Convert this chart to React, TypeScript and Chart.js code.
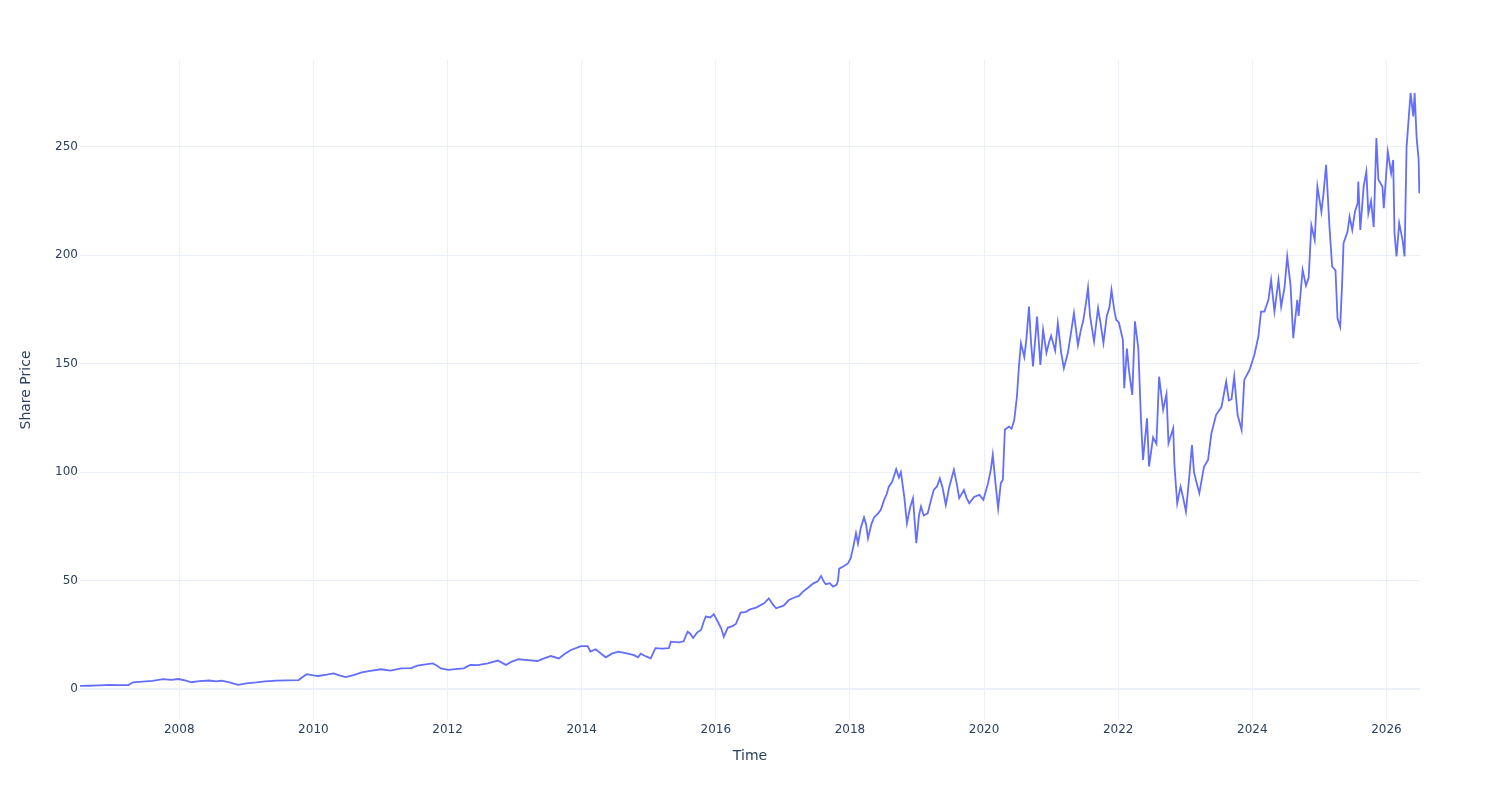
import React, { useEffect, useRef } from "react";
import { Chart, registerables } from "chart.js";

Chart.register(...registerables);

// Time in decimal years
const timeYears: number[] = [
  2006.52, 2006.65, 2006.8, 2006.95, 2007.1, 2007.24, 2007.31, 2007.45, 2007.6, 2007.76, 2007.88, 2007.99,
  2008.1, 2008.18, 2008.3, 2008.45, 2008.55, 2008.63, 2008.75, 2008.88, 2009.0, 2009.15, 2009.28, 2009.45,
  2009.6, 2009.78, 2009.84, 2009.9, 2010.0, 2010.07, 2010.2, 2010.3, 2010.4, 2010.48, 2010.6, 2010.72,
  2010.85, 2011.01, 2011.15, 2011.31, 2011.46, 2011.55, 2011.7, 2011.78, 2011.85, 2011.9, 2012.01, 2012.12,
  2012.24, 2012.34, 2012.45, 2012.6, 2012.75, 2012.87, 2012.95, 2013.06, 2013.2, 2013.34, 2013.45, 2013.54,
  2013.66, 2013.75, 2013.84, 2013.99, 2014.09, 2014.13, 2014.21, 2014.3, 2014.36, 2014.45, 2014.55, 2014.69,
  2014.78, 2014.84, 2014.88, 2014.96, 2015.03, 2015.1, 2015.2, 2015.3, 2015.33, 2015.45, 2015.52, 2015.58,
  2015.62, 2015.66, 2015.72, 2015.78, 2015.82, 2015.85, 2015.92, 2015.97, 2016.03, 2016.08, 2016.12, 2016.18,
  2016.25, 2016.3, 2016.37, 2016.45, 2016.51, 2016.6, 2016.72, 2016.79, 2016.85, 2016.9, 2017.01, 2017.09,
  2017.18, 2017.24, 2017.3, 2017.38, 2017.45, 2017.52, 2017.57, 2017.61, 2017.64, 2017.7, 2017.75, 2017.8,
  2017.82, 2017.84, 2017.9, 2017.97, 2018.01, 2018.05, 2018.09, 2018.12, 2018.16, 2018.21, 2018.24, 2018.27,
  2018.32, 2018.36, 2018.42, 2018.46, 2018.51, 2018.55, 2018.58, 2018.63, 2018.69, 2018.73, 2018.76, 2018.81,
  2018.85, 2018.9, 2018.94, 2018.99, 2019.03, 2019.06, 2019.1, 2019.16, 2019.2, 2019.25, 2019.3, 2019.34,
  2019.38, 2019.43, 2019.48, 2019.55, 2019.59, 2019.63, 2019.7, 2019.74, 2019.78, 2019.85, 2019.93, 2019.99,
  2020.06, 2020.1, 2020.13, 2020.17, 2020.21, 2020.25, 2020.28, 2020.31, 2020.37, 2020.41, 2020.45, 2020.49,
  2020.52, 2020.55, 2020.6, 2020.63, 2020.67, 2020.7, 2020.73, 2020.79, 2020.84, 2020.88, 2020.93, 2020.97,
  2021.0, 2021.06, 2021.1, 2021.15, 2021.19, 2021.25, 2021.3, 2021.34, 2021.4, 2021.44, 2021.48, 2021.52,
  2021.55, 2021.58, 2021.64, 2021.7, 2021.74, 2021.78, 2021.83, 2021.87, 2021.9, 2021.94, 2021.97, 2022.01,
  2022.07, 2022.09, 2022.13, 2022.16, 2022.21, 2022.25, 2022.3, 2022.34, 2022.37, 2022.43, 2022.46, 2022.52,
  2022.57, 2022.61, 2022.67, 2022.72, 2022.75, 2022.82, 2022.84, 2022.88, 2022.93, 2022.97, 2023.01, 2023.06,
  2023.1, 2023.13, 2023.17, 2023.21, 2023.28, 2023.34, 2023.39, 2023.46, 2023.54, 2023.61, 2023.65, 2023.69,
  2023.73, 2023.78, 2023.84, 2023.88, 2023.96, 2024.03, 2024.09, 2024.13, 2024.18, 2024.24, 2024.28, 2024.33,
  2024.39, 2024.43, 2024.48, 2024.52, 2024.57, 2024.61, 2024.67, 2024.69, 2024.75, 2024.8, 2024.84, 2024.88,
  2024.93, 2024.97, 2025.03, 2025.06, 2025.1, 2025.15, 2025.19, 2025.24, 2025.27, 2025.31, 2025.34, 2025.36,
  2025.42, 2025.45, 2025.49, 2025.53, 2025.57, 2025.58, 2025.61, 2025.66, 2025.7, 2025.73, 2025.77, 2025.81,
  2025.85, 2025.88, 2025.94, 2025.96, 2026.02, 2026.07, 2026.1, 2026.12, 2026.15, 2026.19, 2026.24, 2026.27,
  2026.3, 2026.33, 2026.36, 2026.4, 2026.42, 2026.45, 2026.48, 2026.49, 2026.5,
];

const sharePrice: number[] = [
  1.4, 1.5, 1.7, 1.9, 1.8, 1.8, 3.1, 3.4, 3.7, 4.5, 4.2, 4.6,
  3.8, 3.1, 3.6, 3.9, 3.5, 3.8, 3.0, 1.9, 2.6, 3.0, 3.5, 3.9,
  4.0, 4.1, 5.5, 6.8, 6.3, 6.0, 6.6, 7.2, 6.2, 5.5, 6.4, 7.7,
  8.3, 9.1, 8.5, 9.5, 9.6, 10.8, 11.5, 11.8, 10.6, 9.5, 8.8, 9.2,
  9.5, 11.1, 11.0, 11.8, 13.1, 11.1, 12.5, 13.7, 13.3, 12.9, 14.2, 15.2,
  14.1, 16.2, 18.0, 19.8, 19.8, 17.2, 18.3, 16.0, 14.6, 16.3, 17.2, 16.3,
  15.6, 14.6, 16.3, 15.0, 14.1, 18.8, 18.6, 18.8, 21.8, 21.5, 22.0, 26.4,
  25.5, 23.5, 26.0, 27.2, 31.0, 33.4, 33.0, 34.5, 31.0, 28.0, 24.1, 28.3,
  29.0, 30.0, 35.2, 35.6, 36.7, 37.5, 39.5, 41.8, 39.0, 37.2, 38.4, 41.0,
  42.3, 42.9, 44.9, 46.8, 48.6, 49.7, 52.1, 49.5, 48.3, 48.8, 47.2, 48.0,
  49.7, 55.5, 56.5, 57.9, 60.2, 65.5, 71.8, 67.0, 74.0, 79.1, 76.0, 69.5,
  76.0, 79.1, 81.0, 82.6, 87.2, 90.0, 93.3, 95.5, 101.3, 97.5, 100.0, 88.7,
  76.4, 84.0, 87.9, 67.2, 80.0, 84.1, 80.0, 81.0, 86.0, 91.8, 93.5, 97.1,
  93.0, 84.9, 93.0, 101.0, 95.0, 88.0, 91.8, 88.0, 85.6, 88.5, 89.5, 87.2,
  94.9, 101.0, 108.0, 95.0, 83.3, 95.0, 96.4, 119.5, 121.0, 120.0, 124.0, 134.8,
  148.7, 159.5, 153.0, 161.0, 176.3, 160.0, 148.7, 171.7, 149.4, 165.6, 155.0, 160.0,
  162.8, 156.0, 168.7, 155.0, 147.9, 155.0, 165.0, 173.3, 158.5, 165.0, 170.0, 178.0,
  185.0, 172.0, 160.2, 175.6, 168.0, 159.5, 172.0, 176.0, 184.0, 175.0, 170.2, 169.0,
  161.0, 138.7, 157.0, 147.0, 135.6, 169.5, 157.0, 124.0, 105.6, 124.8, 102.6, 116.0,
  113.0, 144.0, 128.7, 136.0, 113.3, 120.2, 102.6, 85.6, 93.3, 88.0, 81.8, 97.9,
  112.5, 100.0, 95.0, 90.3, 102.6, 105.6, 117.9, 126.4, 130.0, 141.7, 133.0, 133.6,
  144.0, 126.4, 119.5, 142.5, 147.2, 154.0, 162.5, 174.0, 174.0, 179.4, 188.6, 174.0,
  188.6, 176.3, 185.0, 199.4, 186.0, 161.7, 179.4, 172.0, 193.3, 186.0, 189.6, 213.8,
  207.0, 231.7, 220.0, 228.0, 241.7, 213.2, 194.8, 193.0, 170.9, 167.0, 188.0, 205.5,
  210.9, 217.8, 211.6, 220.0, 224.0, 234.0, 211.6, 231.7, 238.6, 219.3, 225.0, 213.0,
  254.0, 234.8, 231.7, 221.7, 247.7, 237.8, 243.9, 210.2, 199.4, 214.8, 207.0, 199.4,
  250.0, 262.5, 274.8, 264.0, 274.8, 254.0, 244.0, 228.6, 235.0,
];

const xTickYears: number[] = [2008, 2010, 2012, 2014, 2016, 2018, 2020, 2022, 2024, 2026];
const yTickValues: number[] = [0, 50, 100, 150, 200, 250];

const TEXT = "#2a3f5f";
const GRID = "#ebf0f8";
const FONT = "'DejaVu Sans', verdana, arial, sans-serif";

export default function App() {
  const ref = useRef<HTMLCanvasElement | null>(null);

  useEffect(() => {
    if (!ref.current) return;
    const points = timeYears.map((t, i) => ({ x: t, y: sharePrice[i] }));
    const chart = new Chart(ref.current, {
      type: "line",
      data: {
        datasets: [
          {
            data: points,
            borderColor: "#636efa",
            borderWidth: 1.8,
            pointRadius: 0,
            tension: 0,
            fill: false,
          },
        ],
      },
      options: {
        animation: false,
        responsive: false,
        parsing: false as any,
        layout: { padding: { left: 0, right: 80, top: 60, bottom: 0 } },
        plugins: { legend: { display: false }, tooltip: { enabled: false } },
        scales: {
          x: {
            type: "linear",
            min: 2006.52,
            max: 2026.5,
            afterBuildTicks: (scale: any) => {
              scale.ticks = xTickYears.map((v) => ({ value: v }));
            },
            afterFit: (scale: any) => {
              scale.height = 80;
            },
            grid: { color: GRID, lineWidth: 1, drawTicks: false },
            border: { display: false },
            ticks: {
              color: TEXT,
              font: { family: FONT, size: 12 },
              padding: 3,
              maxRotation: 0,
              autoSkip: false,
              callback: (v: any) => String(v),
            },
            title: {
              display: true,
              text: "Time",
              color: TEXT,
              font: { family: FONT, size: 14 },
              padding: { top: 0, bottom: 35 },
            },
          },
          y: {
            type: "linear",
            min: -14.3,
            max: 290,
            afterBuildTicks: (scale: any) => {
              scale.ticks = yTickValues.map((v) => ({ value: v }));
            },
            afterFit: (scale: any) => {
              scale.width = 80;
            },
            grid: {
              color: GRID,
              lineWidth: (ctx: any) => (ctx.tick && ctx.tick.value === 0 ? 2 : 1),
              drawTicks: false,
            },
            border: { display: false },
            ticks: {
              color: TEXT,
              font: { family: FONT, size: 12 },
              padding: 2,
              callback: (v: any) => String(v),
            },
            title: {
              display: true,
              text: "Share Price",
              color: TEXT,
              font: { family: FONT, size: 14 },
              padding: { top: 18, bottom: 0 },
            },
          },
        },
      },
    });
    return () => chart.destroy();
  }, []);

  return (
    <div style={{ position: "absolute", left: 0, top: 0, width: 1500, height: 800, background: "#fff" }}>
      <canvas ref={ref} width={1500} height={800} style={{ display: "block" }} />
    </div>
  );
}
